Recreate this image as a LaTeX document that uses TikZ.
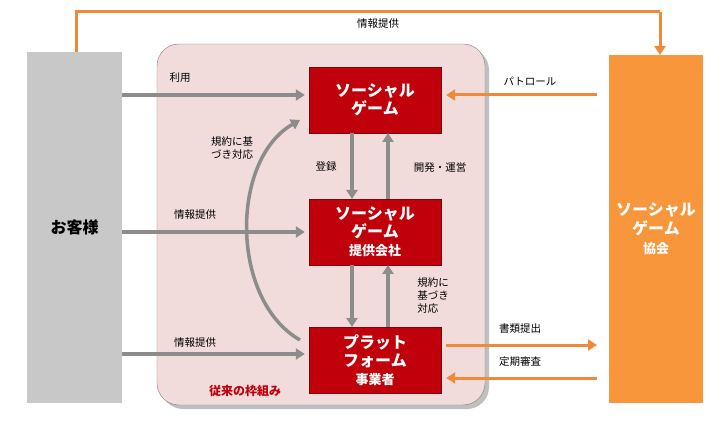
\documentclass[tikz,border=0pt]{standalone}
\usepackage{fontspec}
\setmainfont{Noto Sans CJK JP}
\usetikzlibrary{arrows.meta}
\definecolor{gbox}{HTML}{C8C8C8}
\definecolor{obox}{HTML}{F7963B}
\definecolor{pinkbg}{HTML}{F2DCDB}
\definecolor{redbox}{HTML}{C0000B}
\definecolor{garr}{HTML}{8C8C8C}
\definecolor{oarr}{HTML}{EE8A3A}
\tikzset{
 redn/.style={draw=redbox!70!black,fill=redbox,text=white,font=\fontsize{16}{18}\selectfont\bfseries,minimum width=132pt,minimum height=66pt,align=center,inner sep=1pt},
 garrow/.style={draw=garr,line width=3.5pt,-{Triangle[length=9pt,width=11pt]}},
 oarrow/.style={draw=oarr,line width=3pt,-{Triangle[length=9pt,width=11pt]}},
 lbl/.style={font=\fontsize{10.5}{13}\selectfont,align=center,inner sep=0pt}
}
\begin{document}
\begin{tikzpicture}[x=1pt,y=-1pt]
\useasboundingbox (0,0) rectangle (726,422);
\fill[gray!50,rounded corners=22pt] (161,48) rectangle (489,409);
\draw[gray,fill=pinkbg,rounded corners=22pt] (157,44) rectangle (485,405);
\node[fill=gbox,minimum width=95pt,minimum height=351pt,font=\fontsize{16}{18}\selectfont\bfseries] (cust) at (74.5,227.5) {お客様};
\node[fill=obox,minimum width=94pt,minimum height=348pt,text=white,font=\fontsize{16}{19}\selectfont\bfseries,align=center] (assoc) at (656,229) {ソーシャル\\ゲーム\\{\fontsize{13}{16}\selectfont 協会}};
\node[redn] (game) at (375,100) {ソーシャル\\ゲーム};
\node[redn] (prov) at (375,232) {ソーシャル\\ゲーム\\{\fontsize{13}{15}\selectfont 提供会社}};
\node[redn] (plat) at (375,360) {プラット\\フォーム\\{\fontsize{13}{15}\selectfont 事業者}};
\coordinate (t1) at (76,12); \coordinate (t2) at (660,12);
\draw[oarr,line width=3pt] (76,52) -- (t1) -- (t2);
\draw[oarrow] (t2) -- (660,55);
\node[lbl] at (378,24) {情報提供};
\coordinate (r1) at (597,95); \coordinate (r2) at (597,345); \coordinate (r3) at (597,378);
\draw[garrow] (cust.east|-0,95) -- ([xshift=-4pt]game.west|-0,95);
\node[lbl] at (180,78) {利用};
\draw[garrow] (cust.east|-0,232) -- ([xshift=-4pt]prov.west|-0,232);
\node[lbl] at (195,215) {情報提供};
\draw[garrow] (cust.east|-0,354) -- ([xshift=-4pt]plat.west|-0,354);
\node[lbl] at (195,343) {情報提供};
\draw[oarrow] (r1) -- ([xshift=5pt]game.east|-0,95);
\node[lbl] at (530,81) {パトロール};
\draw[oarrow] ([xshift=5pt]plat.east|-0,345) -- (r2);
\node[lbl] at (520,329) {書類提出};
\draw[oarrow] (r3) -- ([xshift=5pt]plat.east|-0,378);
\node[lbl] at (520,362) {定期審査};
\draw[garrow] (352,133) -- (352,199);
\draw[garrow] (388,199) -- (388,133);
\node[lbl] at (326,167) {登録};
\draw[garrow] (352,265) -- (352,327);
\draw[garrow] (388,327) -- (388,265);
\node[lbl] at (440,168) {開発・運営};
\node[lbl,align=left] at (433,296) {規約に\\基づき\\対応};
\draw[garrow] (300,340) .. controls (230,300) and (230,160) .. (300,120);
\node[lbl] at (232,148) {規約に基\\づき対応};
\node[font=\fontsize{12}{14}\selectfont\bfseries,text=redbox] at (245,391) {従来の枠組み};
\end{tikzpicture}
\end{document}
